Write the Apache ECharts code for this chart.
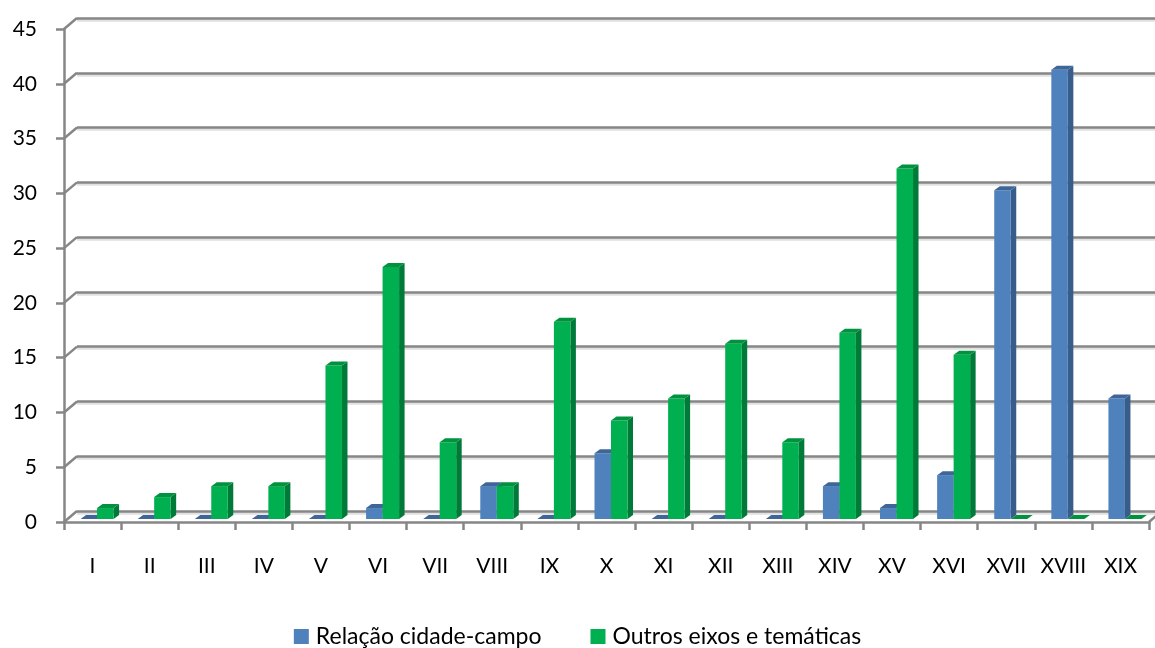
<!DOCTYPE html>
<html>
<head>
<meta charset="utf-8">
<script src="https://cdn.jsdelivr.net/npm/echarts@6.0.0/dist/echarts.min.js"></script>
<style>
  html, body { margin: 0; padding: 0; background: #ffffff; }
  #chart { width: 1155px; height: 648px; }
</style>
</head>
<body>
<div id="chart"></div>
<script>
// Categories and series values
const categories = ['I', 'II', 'III', 'IV', 'V', 'VI', 'VII', 'VIII', 'IX', 'X',
                    'XI', 'XII', 'XIII', 'XIV', 'XV', 'XVI', 'XVII', 'XVIII', 'XIX'];
const relacaoCidadeCampo = [0, 0, 0, 0, 0, 1, 0, 3, 0, 6, 0, 0, 0, 3, 1, 4, 30, 41, 11];
const outrosEixos = [1, 2, 3, 3, 14, 23, 7, 3, 18, 9, 11, 16, 7, 17, 32, 15, 0, 0, 0];
const yTicks = [0, 5, 10, 15, 20, 25, 30, 35, 40, 45];
const seriesNames = ['Relação cidade-campo', 'Outros eixos e temáticas'];

// Pseudo-3D styling constants
const FONT = 'Lato, "Open Sans", sans-serif';
const GRID_COLOR = '#868686';
const WALL_DEPTH = [13, -11];   // offset from the front plane to the back wall
const BAR_DEPTH = [5.5, -4];    // thickness of each column
const BAR_SHIFT = [4.5, -3];    // columns sit slightly behind the front plane
const BAR_WIDTH_FRAC = 0.289;   // column width as a share of one category

const palettes = [
  { front: '#4F81BD', side: '#385D8A', top: '#3F6699' },
  { front: '#00B050', side: '#007A38', top: '#00923F' }
];

function columnRenderer(seriesIdx) {
  const pal = palettes[seriesIdx];
  return function (params, api) {
    const idx = api.value(0);
    const v = api.value(1);
    const base = api.coord([idx, 0]);
    const top = api.coord([idx, v]);
    const cat = api.size([1, 0])[0];
    const w = cat * BAR_WIDTH_FRAC;
    const x0 = base[0] - w + BAR_SHIFT[0] + seriesIdx * w;
    const x1 = x0 + w;
    const yb = base[1] + BAR_SHIFT[1];
    const yt = top[1] + BAR_SHIFT[1];
    const dx = BAR_DEPTH[0], dy = BAR_DEPTH[1];
    const children = [];
    if (yb - yt > 0.5) {
      children.push({
        type: 'polygon',
        shape: { points: [[x1, yb], [x1 + dx, yb + dy], [x1 + dx, yt + dy], [x1, yt]] },
        style: { fill: pal.side }
      });
      children.push({
        type: 'rect',
        shape: { x: x0, y: yt, width: w, height: yb - yt },
        style: { fill: pal.front }
      });
    }
    children.push({
      type: 'polygon',
      shape: { points: [[x0, yt], [x1, yt], [x1 + dx, yt + dy], [x0 + dx, yt + dy]] },
      style: { fill: pal.top }
    });
    return { type: 'group', children: children };
  };
}

// Side-wall gridlines and the right edge of the floor
function wallRenderer(params, api) {
  const v = api.value(1);
  const cs = params.coordSys;
  const y = api.coord([0, v])[1];
  const lines = [{
    type: 'line',
    shape: { x1: cs.x, y1: y, x2: cs.x + WALL_DEPTH[0], y2: y + WALL_DEPTH[1] },
    style: { stroke: GRID_COLOR, lineWidth: 2.5 }
  }];
  if (v === 0) {
    lines.push({
      type: 'line',
      shape: { x1: cs.x + cs.width, y1: y, x2: cs.x + cs.width + WALL_DEPTH[0], y2: y + WALL_DEPTH[1] },
      style: { stroke: GRID_COLOR, lineWidth: 2.5 }
    });
  }
  return { type: 'group', children: lines };
}

const chart = echarts.init(document.getElementById('chart'), null, { renderer: 'canvas' });

chart.setOption({
  animation: false,
  backgroundColor: '#ffffff',
  textStyle: { fontFamily: FONT },
  grid: [
    { left: 64, top: 29, width: 1085, height: 493 },                                   // front plane
    { left: 64 + WALL_DEPTH[0], top: 29 + WALL_DEPTH[1], width: 1085, height: 493 }    // back wall
  ],
  legend: {
    data: seriesNames,
    left: 'center',
    top: 625,
    padding: 0,
    icon: 'rect',
    itemWidth: 15,
    itemHeight: 15,
    itemGap: 49,
    textStyle: { fontFamily: FONT, fontSize: 23, color: '#000', padding: [0, 0, 0, 2] }
  },
  xAxis: [
    {
      type: 'category',
      gridIndex: 0,
      data: categories,
      axisLine: { lineStyle: { color: GRID_COLOR, width: 2.5 } },
      axisTick: { show: true, length: 8, lineStyle: { color: GRID_COLOR, width: 2.5 } },
      axisLabel: { fontFamily: FONT, fontSize: 21, color: '#000', margin: 34, interval: 0 },
      splitLine: { show: false }
    },
    {
      type: 'category',
      gridIndex: 1,
      data: categories,
      show: false
    }
  ],
  yAxis: [
    {
      type: 'value',
      gridIndex: 0,
      min: 0,
      max: 45,
      interval: 5,
      axisLine: { show: true, lineStyle: { color: GRID_COLOR, width: 2.5 } },
      axisTick: { show: true, length: 8, lineStyle: { color: GRID_COLOR, width: 2.5 } },
      axisLabel: { fontFamily: FONT, fontSize: 21, color: '#000', margin: 27 },
      splitLine: { show: false }
    },
    {
      type: 'value',
      gridIndex: 1,
      min: 0,
      max: 45,
      interval: 5,
      axisLine: { show: false },
      axisTick: { show: false },
      axisLabel: { show: false },
      splitLine: {
        show: true,
        lineStyle: { color: GRID_COLOR, width: 2.5, shadowColor: 'rgba(0,0,0,0.12)', shadowOffsetY: 2, shadowBlur: 0 }
      }
    }
  ],
  series: [
    {
      type: 'custom',
      name: 'walls',
      xAxisIndex: 0,
      yAxisIndex: 0,
      silent: true,
      z: 1,
      renderItem: wallRenderer,
      encode: { x: 0, y: 1 },
      data: yTicks.map(v => [0, v])
    },
    {
      type: 'custom',
      name: seriesNames[0],
      xAxisIndex: 0,
      yAxisIndex: 0,
      z: 3,
      itemStyle: { color: palettes[0].front },
      renderItem: columnRenderer(0),
      encode: { x: 0, y: 1 },
      data: relacaoCidadeCampo.map((v, i) => [i, v])
    },
    {
      type: 'custom',
      name: seriesNames[1],
      xAxisIndex: 0,
      yAxisIndex: 0,
      z: 4,
      itemStyle: { color: palettes[1].front },
      renderItem: columnRenderer(1),
      encode: { x: 0, y: 1 },
      data: outrosEixos.map((v, i) => [i, v])
    }
  ]
});
</script>
</body>
</html>
